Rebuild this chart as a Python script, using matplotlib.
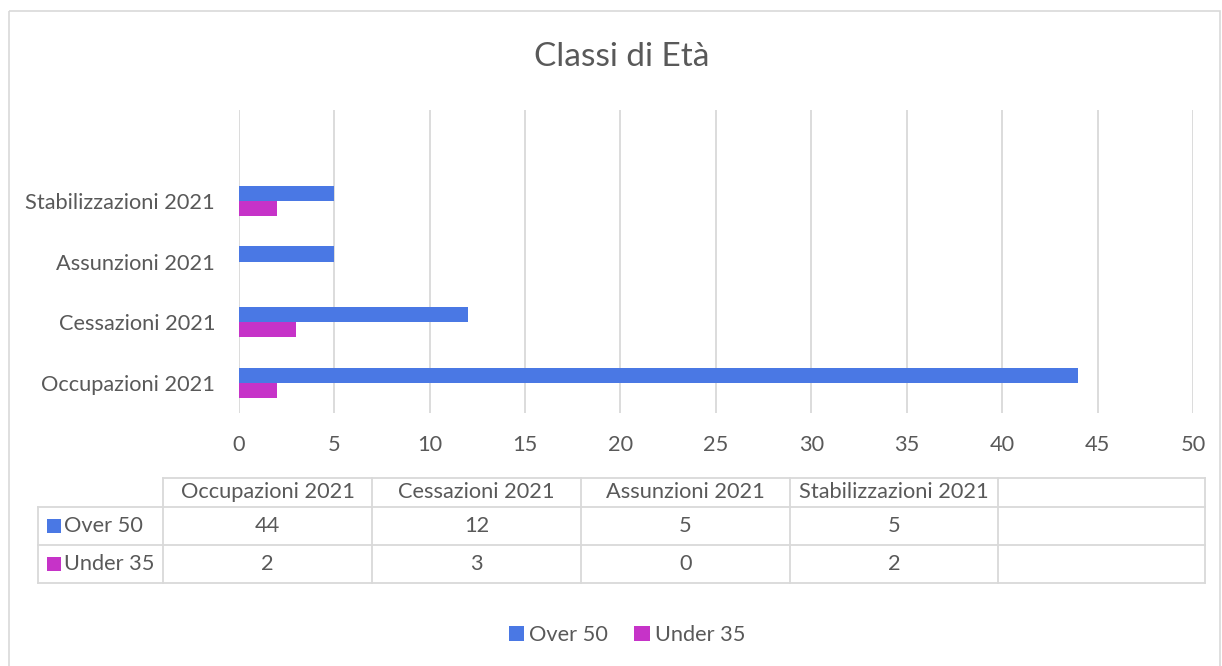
import matplotlib.pyplot as plt
from matplotlib.patches import Rectangle
from matplotlib.lines import Line2D
import numpy as np

plt.rcParams['font.family'] = ['Lato', 'DejaVu Sans']

categories = ['Occupazioni 2021', 'Cessazioni 2021', 'Assunzioni 2021', 'Stabilizzazioni 2021']
over_50 = [44, 12, 5, 5]
under_35 = [2, 3, 0, 2]
series_names = ['Over 50', 'Under 35']
colors = ['#4A78E4', '#C633C8']
xticks = list(range(0, 55, 5))

txt = '#595959'
grid = '#D9D9D9'
W, H = 1222, 666
fs = 15.7

fig = plt.figure(figsize=(W / 100, H / 100), dpi=100)

# overlay axes in pixel coords for frame + table lines
bg = fig.add_axes([0, 0, 1, 1])
bg.set_xlim(0, W)
bg.set_ylim(H, 0)
bg.axis('off')
bg.add_patch(Rectangle((9, 11), 1211, 670, fill=False, edgecolor=grid, lw=1.2))

# main chart
ax = fig.add_axes([238.7 / W, 1 - 413 / H, (1193 - 238.7) / W, (413 - 110) / H])
y = np.arange(len(categories))
h = 0.25
b1 = ax.barh(y + h / 2, over_50, height=h, color=colors[0], label=series_names[0])
b2 = ax.barh(y - h / 2, under_35, height=h, color=colors[1], label=series_names[1])
ax.set_ylim(-0.5, len(categories) + 0.5)  # extra empty category like the source
ax.set_xlim(0, 50)
ax.set_xticks(xticks)
ax.set_yticks(y)
ax.set_yticklabels(categories)
ax.tick_params(axis='both', length=0, labelsize=fs, colors=txt)
ax.tick_params(axis='y', pad=17)
ax.tick_params(axis='x', pad=16)
for s in ax.spines.values():
    s.set_visible(False)
ax.grid(axis='x', color=grid, lw=1.3)
ax.set_axisbelow(True)

fig.text(622 / W, 1 - 57 / H, 'Classi di Età', ha='center', va='center',
         fontsize=24, color=txt)

# data table
col_x = [163, 372, 581, 790, 998, 1205]
row_y = [478, 507, 545, 583]
left = 38
bg.add_line(Line2D([col_x[0], col_x[-1]], [row_y[0], row_y[0]], color=grid, lw=1.3))
for ry in row_y[1:]:
    bg.add_line(Line2D([left, col_x[-1]], [ry, ry], color=grid, lw=1.3))
bg.add_line(Line2D([left, left], [row_y[1], row_y[-1]], color=grid, lw=1.3))
for cx in col_x:
    bg.add_line(Line2D([cx, cx], [row_y[0], row_y[-1]], color=grid, lw=1.3))

header = categories + ['']
for i, name in enumerate(header):
    bg.text((col_x[i] + col_x[i + 1]) / 2, (row_y[0] + row_y[1]) / 2, name,
            ha='center', va='center', fontsize=fs, color=txt)
for r, (name, vals) in enumerate(zip(series_names, [over_50, under_35])):
    cy = (row_y[r + 1] + row_y[r + 2]) / 2
    bg.add_patch(Rectangle((47, cy - 7), 14, 14, color=colors[r], lw=0))
    bg.text(64, cy, name, ha='left', va='center', fontsize=fs, color=txt)
    for i, v in enumerate(vals):
        bg.text((col_x[i] + col_x[i + 1]) / 2, cy, str(v),
                ha='center', va='center', fontsize=fs, color=txt)

leg = fig.legend(handles=[b1, b2], loc='center', bbox_to_anchor=(627 / W, 1 - 635 / H),
                 ncol=2, frameon=False, fontsize=fs, handlelength=0.7, handleheight=0.7,
                 handletextpad=0.25, columnspacing=1.2)
for t in leg.get_texts():
    t.set_color(txt)

fig.savefig('out.png', dpi=100)
